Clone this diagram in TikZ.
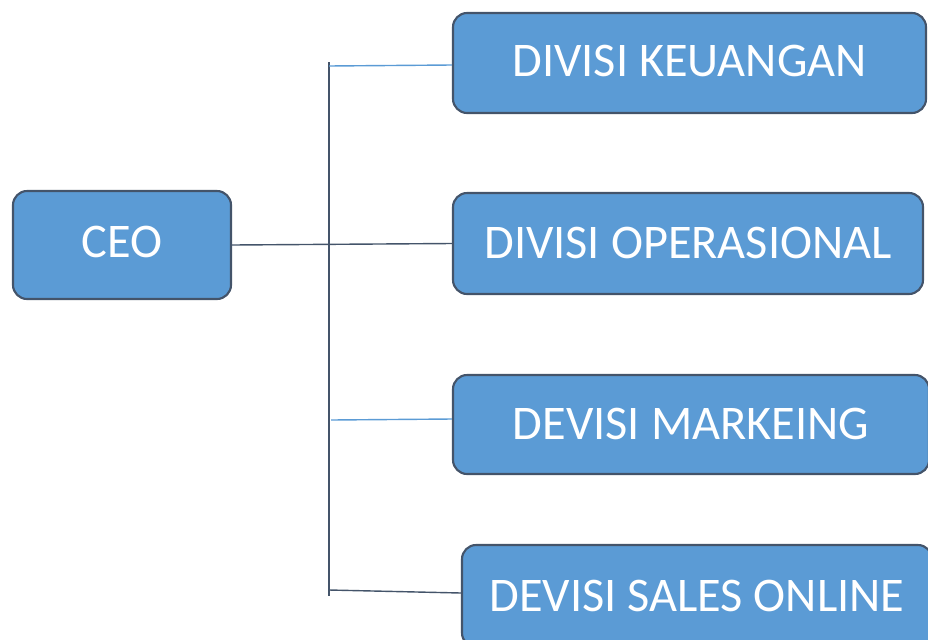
\documentclass[tikz,border=0pt]{standalone}
\usepackage{fontspec}
\setmainfont{Carlito}
\definecolor{boxfill}{HTML}{5B9BD5}
\definecolor{boxline}{HTML}{44546A}
\tikzset{
  divbox/.style={draw=boxline, line width=1.2pt, fill=boxfill, rounded corners=8pt,
    text=white, font=\fontsize{27.5}{31}\selectfont, inner sep=0pt},
  darkline/.style={draw=boxline, line width=0.8pt},
  blueline/.style={draw=boxfill, line width=0.8pt}
}
\begin{document}
\begin{tikzpicture}[x=0.02cm, y=-0.02cm]

\useasboundingbox (0,0) rectangle (928,639);

\node[divbox, minimum width=218*0.02cm, minimum height=108*0.02cm] (ceo) at (122, 245) {\raisebox{4pt}{CEO}};

\node[divbox, minimum width=473*0.02cm, minimum height=100*0.02cm] (keuangan) at (689.5, 63) {\raisebox{2pt}{DIVISI KEUANGAN}};

\node[divbox, minimum width=470*0.02cm, minimum height=101*0.02cm] (operasional) at (688, 243.5) {\raisebox{1pt}{DIVISI OPERASIONAL}};

\node[divbox, minimum width=476*0.02cm, minimum height=99*0.02cm] (marketing) at (691, 424.5) {\raisebox{1pt}{DEVISI MARKEING}};

\node[divbox, minimum width=470*0.02cm, minimum height=102*0.02cm] (sales) at (697, 596) {\raisebox{-1pt}{DEVISI SALES ONLINE}};

\coordinate (bustop) at (329, 62);
\coordinate (busbottom) at (329, 596);

\draw[darkline] (bustop) -- (busbottom);

\draw[blueline] (329, 66) -- (keuangan.west |- 0, 65);

\draw[darkline] (ceo.east) -- (operasional.west);

\draw[blueline] (331, 420) -- (marketing.west |- 0, 419);

\draw[darkline] (329, 590) -- (sales.west |- 0, 593);

\end{tikzpicture}
\end{document}
